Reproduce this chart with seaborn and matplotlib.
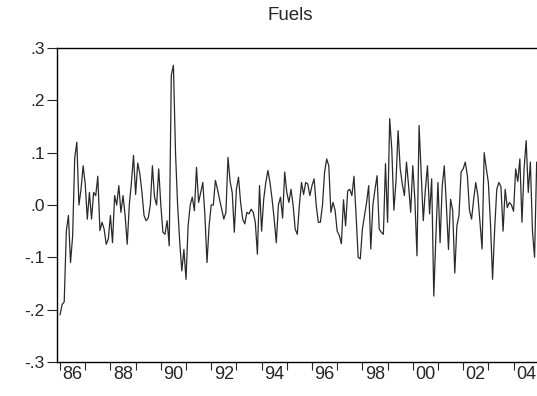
import matplotlib
matplotlib.use("Agg")
import matplotlib.pyplot as plt
import numpy as np
import pandas as pd
import seaborn as sns

# monthly values, Jan 1986 - Dec 2004
y1986 = [-0.21, -0.19, -0.185, -0.05, -0.02, -0.11, -0.06, 0.09, 0.12, 0.0, 0.03, 0.075]
y1987 = [0.04, -0.027, 0.024, -0.027, 0.024, 0.018, 0.055, -0.049, -0.033, -0.046, -0.075, -0.065]
y1988 = [-0.02, -0.072, 0.018, 0.0, 0.037, -0.014, 0.018, -0.02, -0.075, 0.0, 0.043, 0.095]
y1989 = [0.02, 0.08, 0.06, 0.025, -0.02, -0.03, -0.025, 0.0, 0.075, 0.015, 0.0, 0.069]
y1990 = [0.0, -0.052, -0.056, -0.03, -0.078, 0.248, 0.267, 0.10, 0.0, -0.07, -0.126, -0.085]
y1991 = [-0.142, -0.04, 0.0, 0.015, -0.011, 0.072, 0.005, 0.024, 0.043, -0.02, -0.11, -0.04]
y1992 = [0.0, 0.0, 0.047, 0.03, 0.01, -0.008, -0.027, -0.014, 0.091, 0.045, 0.024, -0.052]
y1993 = [0.03, 0.053, 0.005, -0.027, -0.036, -0.014, -0.017, -0.008, -0.014, -0.033, -0.094, 0.037]
y1994 = [-0.05, 0.011, 0.043, 0.066, 0.043, 0.011, -0.027, -0.072, 0.0, 0.015, -0.025, 0.063]
y1995 = [0.024, 0.005, 0.03, 0.0, -0.046, -0.056, 0.0, 0.043, 0.02, 0.043, 0.04, 0.018]
y1996 = [0.037, 0.05, 0.0, -0.033, -0.033, 0.0, 0.063, 0.088, 0.075, -0.014, 0.005, -0.01]
y1997 = [-0.05, -0.058, -0.074, 0.01, -0.04, 0.027, 0.03, 0.018, 0.055, -0.02, -0.1, -0.103]
y1998 = [-0.046, -0.02, 0.005, 0.037, -0.084, 0.0, 0.03, 0.056, -0.046, -0.052, -0.056, 0.079]
y1999 = [-0.033, 0.165, 0.107, -0.01, 0.045, 0.142, 0.07, 0.04, 0.018, 0.082, 0.037, -0.014]
y2000 = [0.075, 0.01, -0.097, 0.152, 0.06, -0.03, 0.03, 0.075, -0.017, 0.05, -0.174, -0.06]
y2001 = [0.043, -0.072, 0.035, 0.075, 0.0, -0.085, 0.011, -0.01, -0.13, -0.04, -0.02, 0.063]
y2002 = [0.069, 0.082, 0.056, -0.01, -0.027, 0.011, 0.043, 0.018, -0.033, -0.084, 0.1, 0.07]
y2003 = [0.043, -0.035, -0.142, -0.046, 0.03, 0.043, 0.035, -0.05, 0.03, -0.005, 0.005, 0.0]
y2004 = [-0.012, 0.069, 0.045, 0.088, -0.033, 0.069, 0.123, 0.024, 0.082, -0.05, -0.1, 0.082]

years = list(range(1986, 2005))
yticks = [0.3, 0.2, 0.1, 0.0, -0.1, -0.2, -0.3]
ytick_labels = [".3", ".2", ".1", ".0", "-.1", "-.2", "-.3"]
xtick_labels = ["86", "88", "90", "92", "94", "96", "98", "00", "02", "04"]

values = (y1986 + y1987 + y1988 + y1989 + y1990 + y1991 + y1992 + y1993
          + y1994 + y1995 + y1996 + y1997 + y1998 + y1999 + y2000 + y2001
          + y2002 + y2003 + y2004)
dates = [yr + m / 12 for yr in years for m in range(12)]
df = pd.DataFrame({"date": dates, "fuels": values})

sns.set_style("ticks")
plt.rcParams["font.family"] = ["Liberation Sans", "DejaVu Sans"]

fig = plt.figure(figsize=(5.37, 3.96), dpi=100)
ax = fig.add_axes([57 / 537, 34 / 396, 480 / 537, 314 / 396])

sns.lineplot(data=df, x="date", y="fuels", ax=ax, color="#2a2a2a", linewidth=0.9)

ax.set_xlim(1985.88, 2004.93)
ax.set_ylim(-0.3, 0.3)
ax.set_xlabel("")
ax.set_ylabel("")

ax.set_yticks(yticks)
ax.set_yticklabels(ytick_labels, fontsize=12.5)
ax.tick_params(axis="y", length=7, width=0.8, pad=2)

ax.set_xticks(years)
ax.set_xticklabels([])
ax.tick_params(axis="x", which="major", length=6, width=0.8)
ax.set_xticks([yr + 0.5 for yr in years[::2]], minor=True)
ax.set_xticklabels(xtick_labels, minor=True, fontsize=13)
ax.tick_params(axis="x", which="minor", length=0, pad=3)

for side in ["left", "top", "bottom"]:
    ax.spines[side].set_linewidth(1.0)
    ax.spines[side].set_color("black")
ax.spines["right"].set_visible(False)

fig.text(290 / 537, 1 - 15 / 396, "Fuels", ha="center", va="center", fontsize=13.5)

fig.savefig("out.png", dpi=100)
